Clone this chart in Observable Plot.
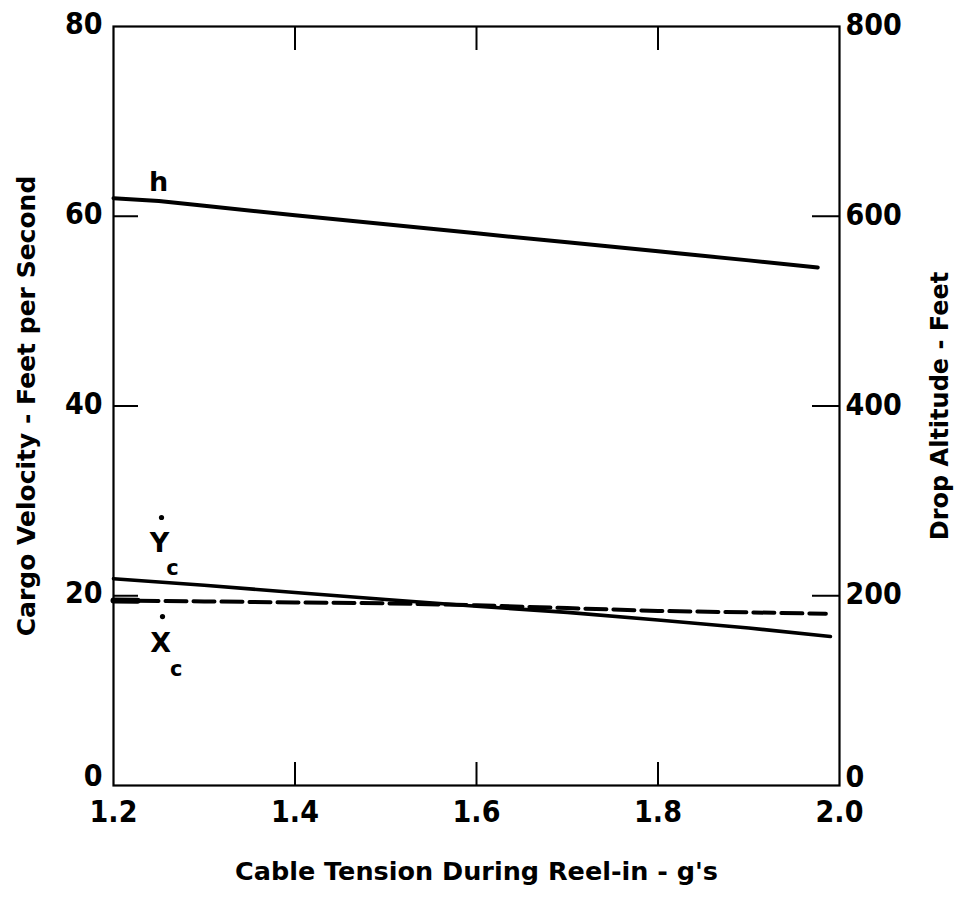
<!DOCTYPE html>
<html><head><meta charset="utf-8">
<script src="https://cdn.jsdelivr.net/npm/d3@7"></script>
<script src="https://cdn.jsdelivr.net/npm/@observablehq/plot@0.6"></script>
<style>body{margin:0;background:#fff}</style>
</head><body><div id="chart"></div>
<script>
// Drop altitude h (feet, right axis) vs cable tension (g's)
const tensionH = [1.2, 1.25, 1.3, 1.4, 1.5, 1.6, 1.7, 1.8, 1.9, 1.976];
const altitudeH = [619, 616, 611, 601, 591.5, 582, 572.5, 563, 553.5, 546];
// Cargo velocity Yc-dot (ft/s, solid)
const tensionYc = [1.2, 1.3, 1.4, 1.5, 1.6, 1.7, 1.8, 1.9, 1.99];
const velocityYc = [21.8, 21.1, 20.35, 19.6, 18.9, 18.25, 17.45, 16.6, 15.7];
// Cargo velocity Xc-dot (ft/s, dashed)
const tensionXc = [1.2, 1.3, 1.4, 1.5, 1.6, 1.7, 1.8, 1.9, 1.985];
const velocityXc = [19.5, 19.4, 19.3, 19.2, 19.0, 18.7, 18.4, 18.25, 18.1];

const xTicks = [1.2, 1.4, 1.6, 1.8, 2.0];
const yTicks = [20, 40, 60, 80];
const yAltTicks = [200, 400, 600, 800];
const yZero = [0];

const xTitle = "Cable Tension During Reel-in - g's";
const yTitle = "Cargo Velocity - Feet per Second";
const yAltTitle = "Drop Altitude - Feet";

// Curve labels
const labelText = ["h", "Y", "X"];
const labelX = [1.2496, 1.2507, 1.252];
const labelY = [63.6, 25.5, 14.97];
const subText = ["c", "c"];
const subX = [1.265, 1.269];
const subY = [22.9, 12.3];
const dotX = [1.2529, 1.254];
const dotY = [28.25, 17.8];

const hRows = tensionH.map((t, i) => ({t, v: altitudeH[i]}));
const ycRows = tensionYc.map((t, i) => ({t, v: velocityYc[i]}));
const xcRows = tensionXc.map((t, i) => ({t, v: velocityXc[i]}));
const labels = labelText.map((s, i) => ({s, x: labelX[i], y: labelY[i]}));
const subs = subText.map((s, i) => ({s, x: subX[i], y: subY[i]}));
const dots = dotX.map((x, i) => ({x, y: dotY[i]}));

const font = "DejaVu Sans, sans-serif";
const tickFont = "'Liberation Sans Narrow', 'DejaVu Sans Condensed', 'DejaVu Sans', sans-serif";
const blank = () => "";
const tickText = {tickSize: 0, fontFamily: tickFont, fontSize: 30, fontWeight: "bold", label: null};

const chart = Plot.plot({
  width: 960,
  height: 905,
  marginLeft: 113,
  marginRight: 121,
  marginTop: 26,
  marginBottom: 120,
  style: {fontFamily: font, fontSize: "24px", color: "#000", background: "#fff"},
  x: {domain: [1.2, 2.0]},
  y: {domain: [0, 80]},
  marks: [
    Plot.frame({stroke: "#000", strokeWidth: 2.2}),
    // inward ticks
    Plot.axisX({anchor: "bottom", ticks: [1.4, 1.6, 1.8], tickSize: -23, tickFormat: blank, strokeWidth: 2, label: null}),
    Plot.axisX({anchor: "top", ticks: [1.4, 1.6, 1.8], tickSize: -23, tickFormat: blank, strokeWidth: 2, label: null}),
    Plot.axisY({anchor: "left", ticks: [20, 40, 60], tickSize: -25, tickFormat: blank, strokeWidth: 2, label: null}),
    Plot.axisY({anchor: "right", ticks: [20, 40, 60], tickSize: -28, tickFormat: blank, strokeWidth: 2, label: null}),
    // tick labels
    Plot.axisX({anchor: "bottom", ticks: xTicks, tickPadding: 15, tickFormat: d3.format(".1f"), ...tickText}),
    Plot.axisY({anchor: "left", ticks: yTicks, tickPadding: 11, dy: -2, ...tickText}),
    Plot.axisY({anchor: "left", ticks: yZero, tickPadding: 11, dy: -9, ...tickText}),
    Plot.axisY({anchor: "right", ticks: yTicks, tickPadding: 6, dy: -1, tickFormat: (d, i) => String(yAltTicks[i]), ...tickText}),
    Plot.axisY({anchor: "right", ticks: yZero, tickPadding: 6, dy: -8, ...tickText}),
    // axis titles
    Plot.text([xTitle], {text: d => d, frameAnchor: "bottom", lineAnchor: "middle", dy: 86, fontSize: 25.5, fontWeight: "bold"}),
    Plot.text([yTitle], {text: d => d, frameAnchor: "left", textAnchor: "middle", dx: -87, rotate: -90, fontSize: 25, fontWeight: "bold"}),
    Plot.text([yAltTitle], {text: d => d, frameAnchor: "right", textAnchor: "middle", dx: 101, rotate: -90, fontSize: 24, fontWeight: "bold"}),
    // curves
    Plot.line(hRows, {x: "t", y: d => d.v / 10, stroke: "#000", strokeWidth: 4}),
    Plot.line(ycRows, {x: "t", y: "v", stroke: "#000", strokeWidth: 3.6}),
    Plot.line(xcRows, {x: "t", y: "v", stroke: "#000", strokeWidth: 4, strokeDasharray: "21,7", strokeDashoffset: -24}),
    Plot.line(xcRows.slice(0, 2), {x: "t", y: "v", stroke: "#000", strokeWidth: 6, strokeDasharray: "24,2000"}),
    // labels
    Plot.text(labels, {x: "x", y: "y", text: "s", fontSize: 27, fontWeight: "bold"}),
    Plot.text(subs, {x: "x", y: "y", text: "s", fontSize: 21, fontWeight: "bold"}),
    Plot.dot(dots, {x: "x", y: "y", r: 2.6, fill: "#000", stroke: null})
  ]
});
document.getElementById("chart").appendChild(chart);
</script>
</body></html>
